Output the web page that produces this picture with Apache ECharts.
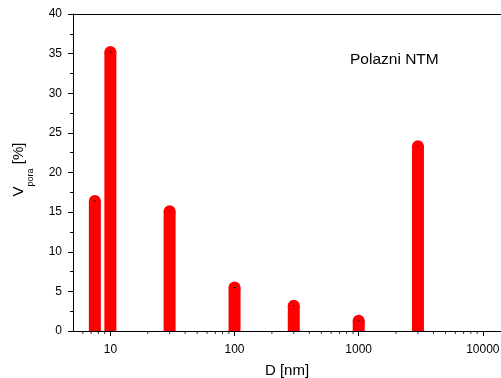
<!DOCTYPE html>
<html>
<head>
<meta charset="utf-8">
<script src="https://cdn.jsdelivr.net/npm/echarts@6/dist/echarts.min.js"></script>
<style>
html, body { margin: 0; padding: 0; background: #fff; }
#chart { width: 501px; height: 378px; }
</style>
</head>
<body>
<div id="chart"></div>
<script>
// pore diameter D [nm] and pore volume share [%]
const diameters = [7.5, 10, 30, 100, 300, 1000, 3000];
const vPora = [16.4, 35.2, 15.1, 5.5, 3.2, 1.3, 23.3];
// minor ticks of the log axis (2..9 of each decade)
const xMinorTicks = [6, 7, 8, 9, 20, 30, 40, 50, 60, 70, 80, 90,
	200, 300, 400, 500, 600, 700, 800, 900,
	2000, 3000, 4000, 5000, 6000, 7000, 8000, 9000];

const font = 'Liberation Sans, Arial, sans-serif';
const barW = 12;

const chart = echarts.init(document.getElementById('chart'));

chart.setOption({
	animation: false,
	title: {
		text: 'Polazni NTM',
		left: 345,
		top: 47,
		textStyle: { fontFamily: font, fontSize: 15.5, fontWeight: 'normal', color: '#000' }
	},
	grid: { left: 73, right: 0, top: 14, bottom: 47, outerBoundsMode: 'none', containLabel: false },
	xAxis: [
		{
			type: 'log',
			logBase: 10,
			min: 5,
			max: 14000,
			name: 'D [nm]',
			nameLocation: 'middle',
			nameGap: 32,
			nameTextStyle: { fontFamily: font, fontSize: 15, color: '#000' },
			axisLine: { lineStyle: { color: '#000', width: 1 } },
			axisTick: { length: 5, lineStyle: { color: '#000' } },
			axisLabel: {
				fontFamily: font, fontSize: 12, color: '#000', margin: 13,
				showMinLabel: false, showMaxLabel: false,
				formatter: function (v) { return '' + Math.round(v); }
			},
			splitLine: { show: false }
		},
		{
			// top frame line
			type: 'log',
			position: 'top',
			min: 5,
			max: 14000,
			axisLine: { lineStyle: { color: '#000', width: 1 } },
			axisTick: { show: false },
			axisLabel: { show: false },
			splitLine: { show: false }
		}
	],
	yAxis: {
		type: 'value',
		min: 0,
		max: 40,
		interval: 5,
		name: '{a|V}{b|pora}{a| [%]}',
		nameLocation: 'middle',
		nameGap: 38,
		nameTextStyle: {
			padding: [0, 0, 0, 6],
			rich: {
				a: { fontFamily: font, fontSize: 15, color: '#000' },
				b: { fontFamily: font, fontSize: 9, color: '#000', padding: [24, 0, 0, 0] }
			}
		},
		axisLine: { show: true, lineStyle: { color: '#000', width: 1 } },
		axisTick: { show: true, length: 5, lineStyle: { color: '#000' } },
		minorTick: { show: true, splitNumber: 2, length: 3, lineStyle: { color: '#000' } },
		axisLabel: { fontFamily: font, fontSize: 12, color: '#000', margin: 11 },
		splitLine: { show: false }
	},
	series: [
		{
			type: 'custom',
			data: diameters.map(function (d, i) { return [d, vPora[i]]; }),
			encode: { x: 0, y: 1 },
			renderItem: function (params, api) {
				const top = api.coord([api.value(0), api.value(1)]);
				const base = api.coord([api.value(0), 0]);
				return {
					type: 'group',
					children: [
						{
							type: 'rect',
							shape: { x: top[0] - barW / 2, y: top[1], width: barW, height: base[1] - top[1] },
							style: { fill: '#ff0000' }
						},
						{
							type: 'circle',
							shape: { cx: top[0], cy: top[1], r: barW / 2 },
							style: { fill: '#ff0000' }
						},
						{
							type: 'circle',
							shape: { cx: top[0], cy: top[1], r: 0.7 },
							style: { fill: '#000' }
						}
					]
				};
			}
		},
		{
			// minor ticks on the log axis
			type: 'scatter',
			silent: true,
			clip: false,
			symbol: 'rect',
			symbolSize: [1, 3],
			symbolOffset: [0, 1.5],
			itemStyle: { color: '#000' },
			data: xMinorTicks.map(function (v) { return [v, 0]; })
		}
	]
});
</script>
</body>
</html>
